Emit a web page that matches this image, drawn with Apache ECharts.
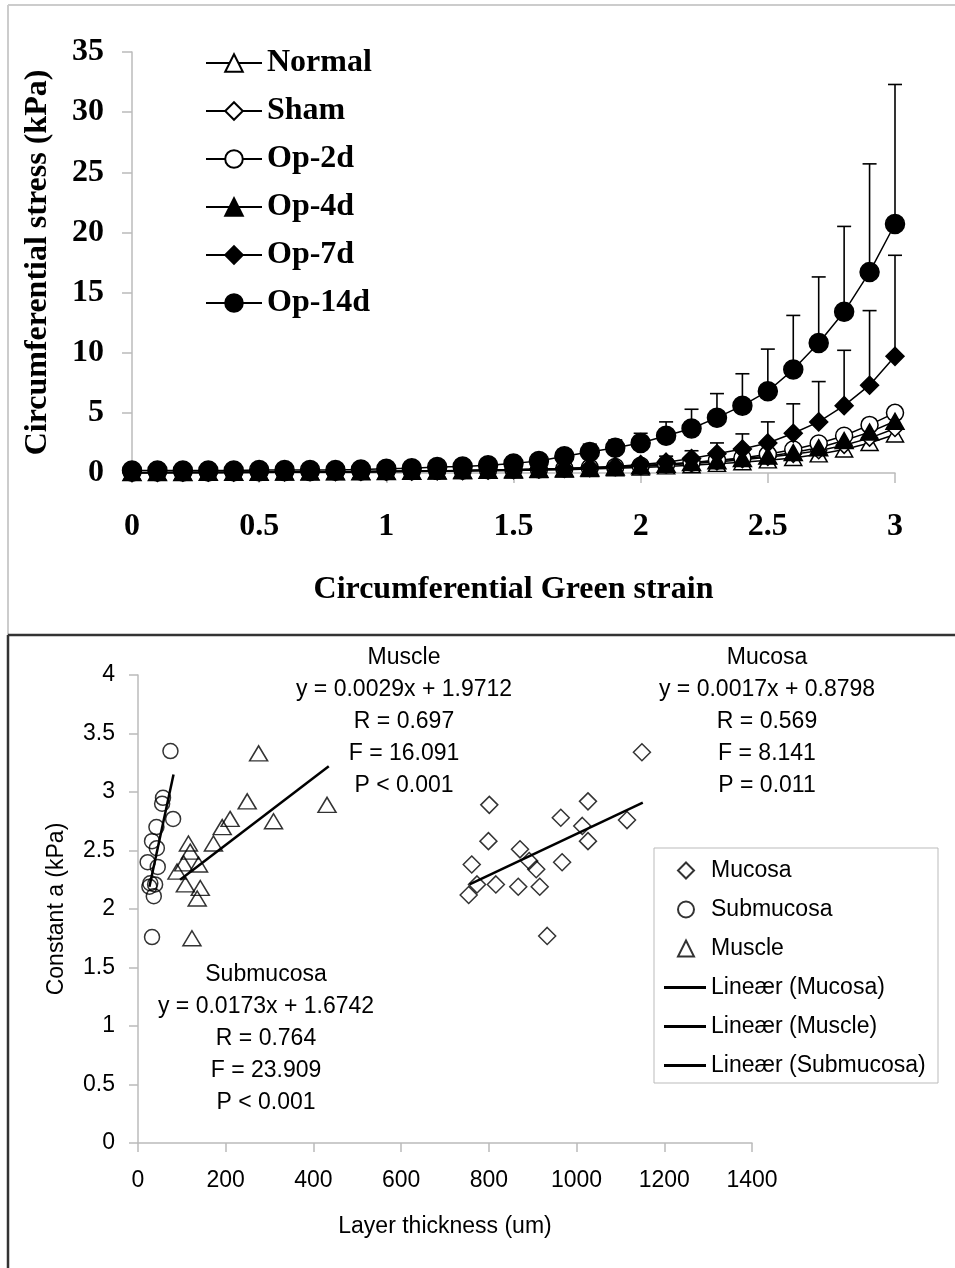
<!DOCTYPE html>
<html>
<head>
<meta charset="utf-8">
<script src="https://cdn.jsdelivr.net/npm/echarts@6/dist/echarts.min.js"></script>
<style>
html, body { margin: 0; padding: 0; background: #fff; }
#main { width: 955px; height: 1268px; }
</style>
</head>
<body>
<div id="main"></div>
<script>
// top panel: stress vs strain
var strain = [0, 0.1, 0.2, 0.3, 0.4, 0.5, 0.6, 0.7, 0.8, 0.9, 1.0, 1.1, 1.2, 1.3, 1.4, 1.5,
    1.6, 1.7, 1.8, 1.9, 2.0, 2.1, 2.2, 2.3, 2.4, 2.5, 2.6, 2.7, 2.8, 2.9, 3.0];
var normal = [0.02, 0.02, 0.03, 0.03, 0.04, 0.05, 0.06, 0.07, 0.08, 0.09, 0.1, 0.12, 0.14, 0.16, 0.18, 0.21,
    0.24, 0.28, 0.33, 0.39, 0.46, 0.55, 0.65, 0.76, 0.9, 1.05, 1.25, 1.55, 1.95, 2.5, 3.2];
var sham = [0.03, 0.03, 0.04, 0.04, 0.05, 0.06, 0.07, 0.08, 0.09, 0.1, 0.12, 0.14, 0.16, 0.18, 0.21, 0.24,
    0.28, 0.33, 0.39, 0.46, 0.55, 0.66, 0.78, 0.92, 1.1, 1.3, 1.55, 1.85, 2.3, 2.9, 3.7];
var op2d = [0.03, 0.04, 0.04, 0.05, 0.06, 0.07, 0.08, 0.09, 0.1, 0.12, 0.14, 0.16, 0.18, 0.21, 0.24, 0.28,
    0.32, 0.37, 0.43, 0.5, 0.6, 0.72, 0.88, 1.05, 1.25, 1.55, 1.95, 2.45, 3.1, 4.0, 5.0];
var op4d = [0.03, 0.03, 0.04, 0.05, 0.05, 0.06, 0.07, 0.08, 0.1, 0.11, 0.13, 0.15, 0.17, 0.2, 0.23, 0.27,
    0.31, 0.36, 0.42, 0.5, 0.6, 0.72, 0.86, 1.02, 1.2, 1.4, 1.7, 2.1, 2.7, 3.4, 4.3];
var op7d = [0.05, 0.05, 0.06, 0.06, 0.07, 0.08, 0.09, 0.1, 0.11, 0.12, 0.14, 0.16, 0.18, 0.2, 0.24, 0.28,
    0.33, 0.38, 0.45, 0.55, 0.7, 0.9, 1.2, 1.6, 2.0, 2.5, 3.3, 4.25, 5.6, 7.3, 9.7];
var op14d = [0.2, 0.2, 0.2, 0.2, 0.2, 0.25, 0.25, 0.25, 0.25, 0.3, 0.35, 0.4, 0.5, 0.55, 0.65, 0.8,
    1.0, 1.4, 1.75, 2.1, 2.5, 3.1, 3.7, 4.6, 5.6, 6.8, 8.6, 10.8, 13.4, 16.7, 20.7];
// upper ends of the error bars (null = hidden under the marker)
var op7dUpper = [null, null, null, null, null, null, null, null, null, null, null, null, null, null, null, null,
    null, null, 0.6, 0.75, 1.0, 1.4, 1.85, 2.5, 3.25, 4.25, 5.75, 7.6, 10.2, 13.5, 18.1];
var op14dUpper = [null, null, null, null, null, null, null, null, null, null, 0.5, 0.6, 0.75, 0.85, 1.0, 1.2,
    1.5, 1.95, 2.4, 2.75, 3.3, 4.25, 5.3, 6.6, 8.25, 10.3, 13.1, 16.3, 20.5, 25.7, 32.3];

// bottom panel: constant a vs layer thickness
var mucosaX = [754, 761, 773, 799, 801, 816, 867, 871, 892, 908, 916, 933, 964, 967, 1013, 1026, 1026, 1115, 1149];
var mucosaY = [2.12, 2.38, 2.21, 2.58, 2.89, 2.21, 2.19, 2.51, 2.41, 2.34, 2.19, 1.77, 2.78, 2.40, 2.71, 2.92, 2.58, 2.76, 3.34];
var submucosaX = [74, 57, 55, 80, 42, 32, 43, 22, 45, 28, 39, 26, 36, 32];
var submucosaY = [3.35, 2.95, 2.90, 2.77, 2.70, 2.58, 2.52, 2.40, 2.36, 2.22, 2.21, 2.19, 2.11, 1.76];
var muscleX = [275, 249, 431, 210, 309, 192, 172, 115, 119, 138, 104, 89, 108, 142, 135, 123];
var muscleY = [3.33, 2.92, 2.89, 2.77, 2.75, 2.70, 2.56, 2.56, 2.49, 2.38, 2.39, 2.32, 2.21, 2.18, 2.09, 1.75];
var mucosaFit = [[756, 2.21], [1151, 2.91]];
var muscleFit = [[96, 2.25], [435, 3.22]];
var submucosaFit = [[26, 2.19], [81, 3.15]];

var serif = 'Liberation Serif';
var sans = 'Liberation Sans';
var fs = 23; // bottom panel font size

function pairs(xs, ys) {
    return xs.map(function (x, i) { return [x, ys[i]]; });
}
function errData(vals, upper) {
    var out = [];
    strain.forEach(function (s, i) {
        if (upper[i] != null) out.push([s, vals[i], upper[i]]);
    });
    return out;
}
function renderErr(params, api) {
    var p1 = api.coord([api.value(0), api.value(1)]);
    var p2 = api.coord([api.value(0), api.value(2)]);
    var st = { stroke: '#000', lineWidth: 1.6 };
    return {
        type: 'group',
        children: [
            { type: 'line', shape: { x1: p1[0], y1: p1[1], x2: p2[0], y2: p2[1] }, style: st },
            { type: 'line', shape: { x1: p2[0] - 7, y1: p2[1], x2: p2[0] + 7, y2: p2[1] }, style: st }
        ]
    };
}
function topLine(name, vals, symbol, size, filled) {
    return {
        name: name,
        type: 'line',
        xAxisIndex: 0,
        yAxisIndex: 0,
        data: pairs(strain, vals),
        symbol: symbol,
        symbolSize: size,
        showAllSymbol: true,
        lineStyle: { color: '#000', width: 1.5 },
        itemStyle: { color: filled ? '#000' : '#fff', borderColor: '#000', borderWidth: 1.5 },
        z: 3
    };
}
function scatter(name, xs, ys, symbol, size) {
    return {
        name: name,
        type: 'scatter',
        xAxisIndex: 1,
        yAxisIndex: 1,
        data: pairs(xs, ys),
        symbol: symbol,
        symbolSize: size,
        itemStyle: { color: 'rgba(255,255,255,0)', borderColor: '#000', borderWidth: 1.5 },
        z: 3
    };
}
function fitLine(name, pts) {
    return {
        name: name,
        type: 'line',
        xAxisIndex: 1,
        yAxisIndex: 1,
        data: pts,
        symbol: 'none',
        lineStyle: { color: '#000', width: 2.5 },
        itemStyle: { color: '#000' },
        z: 4
    };
}
function note(x, y, lines) {
    return lines.map(function (t, i) {
        return {
            type: 'text', x: x, y: y + i * 32,
            style: { text: t, font: fs + 'px ' + sans, fill: '#000', align: 'center', verticalAlign: 'middle' }
        };
    });
}

var myChart = echarts.init(document.getElementById('main'));

var option = {
    backgroundColor: '#fff',
    animation: false,
    grid: [
        { left: 132, top: 52, width: 763, height: 421 },
        { left: 138, top: 675, width: 614, height: 468 }
    ],
    legend: [
        {
            data: ['Normal', 'Sham', 'Op-2d', 'Op-4d', 'Op-7d', 'Op-14d'],
            orient: 'vertical',
            left: 205,
            top: 47,
            padding: 0,
            itemWidth: 56,
            itemHeight: 22,
            itemGap: 16,
            textStyle: { fontFamily: serif, fontWeight: 'bold', fontSize: 32, color: '#000' }
        },
        {
            data: ['Mucosa', 'Submucosa', 'Muscle'],
            orient: 'vertical',
            left: 677,
            top: 859,
            padding: 0,
            itemWidth: 16,
            itemHeight: 16,
            itemGap: 16,
            textStyle: { fontFamily: sans, fontSize: fs, color: '#000', padding: [0, 0, 0, 12] }
        },
        {
            data: [
                { name: 'Lineær (Mucosa)', icon: 'rect' },
                { name: 'Lineær (Muscle)', icon: 'rect' },
                { name: 'Lineær (Submucosa)', icon: 'rect' }
            ],
            orient: 'vertical',
            left: 664,
            top: 976,
            padding: 0,
            itemWidth: 42,
            itemHeight: 3,
            itemGap: 16,
            textStyle: { fontFamily: sans, fontSize: fs, color: '#000' }
        }
    ],
    xAxis: [
        {
            gridIndex: 0,
            type: 'value',
            min: 0,
            max: 3,
            interval: 0.5,
            name: 'Circumferential Green strain',
            nameLocation: 'middle',
            nameGap: 101,
            nameTextStyle: { fontFamily: serif, fontWeight: 'bold', fontSize: 32, color: '#000' },
            axisLine: { lineStyle: { color: '#bbb', width: 1.5 } },
            axisTick: { length: 10, lineStyle: { color: '#bbb', width: 1.5 } },
            axisLabel: { margin: 38, fontFamily: serif, fontWeight: 'bold', fontSize: 32, color: '#000' },
            splitLine: { show: false }
        },
        {
            gridIndex: 1,
            type: 'value',
            min: 0,
            max: 1400,
            interval: 200,
            name: 'Layer thickness (um)',
            nameLocation: 'middle',
            nameGap: 72,
            nameTextStyle: { fontFamily: sans, fontSize: fs, color: '#000' },
            axisLine: { lineStyle: { color: '#bbb', width: 1.5 } },
            axisTick: { length: 9, lineStyle: { color: '#bbb', width: 1.5 } },
            axisLabel: {
                margin: 26, fontFamily: sans, fontSize: fs, color: '#000',
                formatter: function (v) { return String(v); }
            },
            splitLine: { show: false }
        }
    ],
    yAxis: [
        {
            gridIndex: 0,
            type: 'value',
            min: 0,
            max: 35,
            interval: 5,
            name: 'Circumferential stress (kPa)',
            nameLocation: 'middle',
            nameGap: 78,
            nameTextStyle: { fontFamily: serif, fontWeight: 'bold', fontSize: 32, color: '#000' },
            axisLine: { show: true, lineStyle: { color: '#bbb', width: 1.5 } },
            axisTick: { show: true, length: 10, lineStyle: { color: '#bbb', width: 1.5 } },
            axisLabel: { margin: 28, fontFamily: serif, fontWeight: 'bold', fontSize: 32, color: '#000' },
            splitLine: { show: false }
        },
        {
            gridIndex: 1,
            type: 'value',
            min: 0,
            max: 4,
            interval: 0.5,
            name: 'Constant a (kPa)',
            nameLocation: 'middle',
            nameGap: 70,
            nameTextStyle: { fontFamily: sans, fontSize: fs, color: '#000' },
            axisLine: { show: true, lineStyle: { color: '#bbb', width: 1.5 } },
            axisTick: { show: true, length: 9, lineStyle: { color: '#bbb', width: 1.5 } },
            axisLabel: { margin: 23, fontFamily: sans, fontSize: fs, color: '#000' },
            splitLine: { show: false }
        }
    ],
    graphic: [
        { type: 'line', shape: { x1: 8, y1: 5, x2: 955, y2: 5 }, style: { stroke: '#ccc', lineWidth: 2 } },
        { type: 'line', shape: { x1: 8, y1: 5, x2: 8, y2: 635 }, style: { stroke: '#ccc', lineWidth: 2 } },
        { type: 'line', shape: { x1: 8, y1: 635, x2: 955, y2: 635 }, style: { stroke: '#333', lineWidth: 2.5 } },
        { type: 'line', shape: { x1: 8, y1: 635, x2: 8, y2: 1268 }, style: { stroke: '#333', lineWidth: 2.5 } },
        { type: 'rect', shape: { x: 654, y: 848, width: 284, height: 235 }, style: { fill: 'none', stroke: '#bbb', lineWidth: 1 } }
    ].concat(
        note(404, 658, ['Muscle', 'y = 0.0029x + 1.9712', 'R = 0.697', 'F = 16.091', 'P < 0.001']),
        note(767, 658, ['Mucosa', 'y = 0.0017x + 0.8798', 'R = 0.569', 'F = 8.141', 'P = 0.011']),
        note(266, 975, ['Submucosa', 'y = 0.0173x + 1.6742', 'R = 0.764', 'F = 23.909', 'P < 0.001'])
    ),
    series: [
        {
            name: 'err7',
            type: 'custom',
            xAxisIndex: 0,
            yAxisIndex: 0,
            renderItem: renderErr,
            encode: { x: 0, y: [1, 2] },
            data: errData(op7d, op7dUpper),
            z: 2
        },
        {
            name: 'err14',
            type: 'custom',
            xAxisIndex: 0,
            yAxisIndex: 0,
            renderItem: renderErr,
            encode: { x: 0, y: [1, 2] },
            data: errData(op14d, op14dUpper),
            z: 2
        },
        topLine('Normal', normal, 'triangle', [17, 15], false),
        topLine('Sham', sham, 'diamond', 16, false),
        topLine('Op-2d', op2d, 'circle', 17, false),
        topLine('Op-4d', op4d, 'triangle', [18, 16], true),
        topLine('Op-7d', op7d, 'diamond', 18, true),
        topLine('Op-14d', op14d, 'circle', 19, true),
        scatter('Mucosa', mucosaX, mucosaY, 'diamond', 17),
        scatter('Submucosa', submucosaX, submucosaY, 'circle', 15),
        scatter('Muscle', muscleX, muscleY, 'triangle', [18, 15]),
        fitLine('Lineær (Mucosa)', mucosaFit),
        fitLine('Lineær (Muscle)', muscleFit),
        fitLine('Lineær (Submucosa)', submucosaFit)
    ]
};

myChart.setOption(option);
</script>
</body>
</html>
